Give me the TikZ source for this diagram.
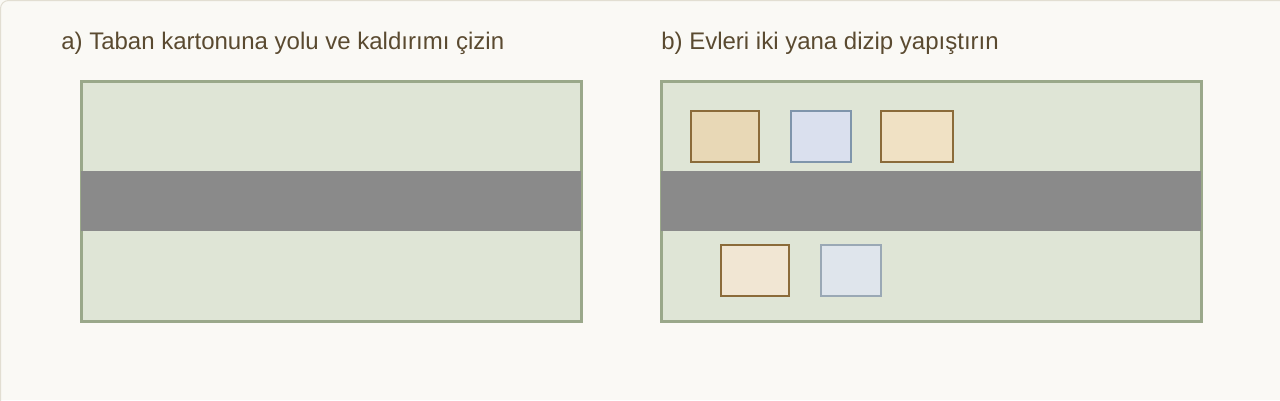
\documentclass[tikz,border=0pt]{standalone}
\usepackage{fontspec}
\setmainfont{Liberation Sans}
\definecolor{bg}{HTML}{FAF9F5}
\definecolor{frame}{HTML}{E2DED2}
\definecolor{board}{HTML}{DFE5D6}
\definecolor{boardline}{HTML}{9AA88A}
\definecolor{road}{HTML}{8A8A8A}
\definecolor{txt}{HTML}{5A4A30}
\definecolor{brownline}{HTML}{8B6B3A}
\definecolor{blueline}{HTML}{7F95AB}
\definecolor{greyblue}{HTML}{9AA8B5}
\definecolor{hA}{HTML}{E8D8B6}
\definecolor{hB}{HTML}{DAE0EE}
\definecolor{hC}{HTML}{F0E1C4}
\definecolor{hD}{HTML}{F1E6D3}
\definecolor{hE}{HTML}{DFE5EC}
\begin{document}
\begin{tikzpicture}[x=0.75pt,y=-0.75pt,
  title/.style={anchor=base west,inner sep=0pt,text=txt,font=\fontsize{18pt}{21pt}\selectfont},
  boardbox/.style={draw=boardline,fill=board,line width=2.25pt},
  roadbar/.style={fill=road},
  house/.style={line width=1.5pt}]
\useasboundingbox (0,0) rectangle (1280,400);
\begin{scope}
\clip (0,0) rectangle (1280,400);
\fill[bg] (0,0) rectangle (1280,400);
\draw[frame,line width=0.75pt,rounded corners=6pt] (0.5,0.5) rectangle (1300,420);
\end{scope}
\node[title] (ta) at (61,49) {a) Taban kartonuna yolu ve kaldırımı çizin};
\node[title] (tb) at (661,49) {b) Evleri iki yana dizip yapıştırın};
% panel a
\draw[boardbox] (81,81) rectangle (581,321);
\fill[roadbar] (81,171) rectangle (581,231);
% panel b
\draw[boardbox] (661,81) rectangle (1201,321);
\fill[roadbar] (661,171) rectangle (1201,231);
\draw[house,draw=brownline,fill=hA] (691,111) rectangle (759,162);
\draw[house,draw=blueline,fill=hB] (791,111) rectangle (851,162);
\draw[house,draw=brownline,fill=hC] (881,111) rectangle (953,162);
\draw[house,draw=brownline,fill=hD] (721,245) rectangle (789,296);
\draw[house,draw=greyblue,fill=hE] (821,245) rectangle (881,296);
\end{tikzpicture}
\end{document}
